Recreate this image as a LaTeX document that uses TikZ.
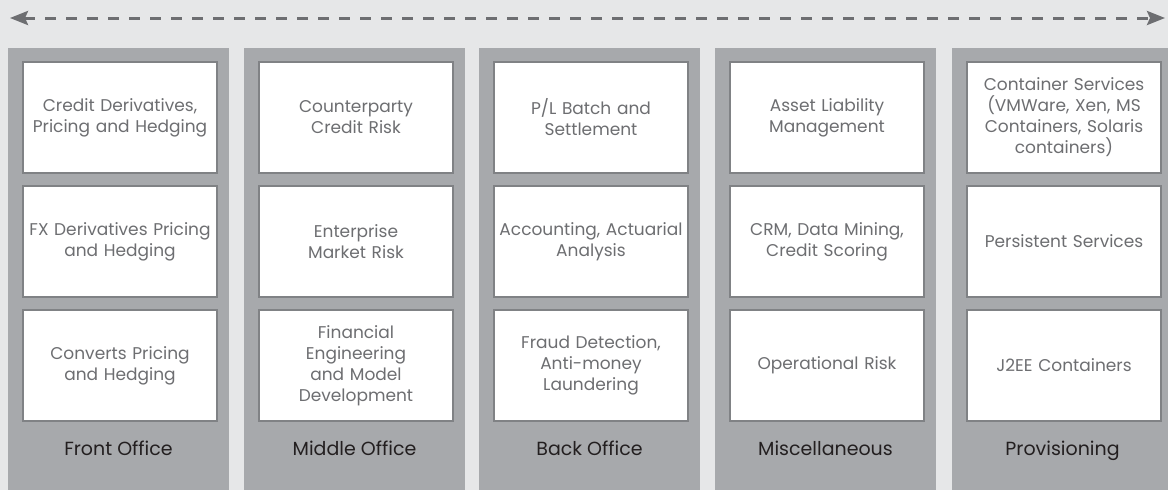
\documentclass[tikz,border=0pt]{standalone}
\usepackage{fontspec}
\setmainfont{Poppins}
\usetikzlibrary{arrows.meta}
\definecolor{bg}{HTML}{E6E7E8}
\definecolor{colgray}{HTML}{A7A9AC}
\definecolor{boxline}{HTML}{808285}
\definecolor{boxtext}{HTML}{6D6E71}
\definecolor{labeltext}{HTML}{231F20}
\definecolor{arrowgray}{HTML}{6D6E71}
\begin{document}
\begin{tikzpicture}[x=1pt,y=-1pt,
  column/.style={fill=colgray, draw=none, minimum width=221pt, minimum height=442pt, inner sep=0pt, outer sep=0pt, anchor=north west},
  cell/.style={draw=boxline, line width=1.2pt, fill=white, minimum width=194pt, minimum height=111pt, text width=192pt, align=center, inner sep=0pt, outer sep=0pt, anchor=north west, text=boxtext, font=\fontsize{17}{21}\selectfont},
  lab/.style={text=labeltext, font=\fontsize{19}{22}\selectfont, inner sep=0pt, anchor=base},
  flow/.style={draw=arrowgray, line width=3pt, dash pattern=on 11pt off 10pt, {Stealth[length=18pt,width=14pt,inset=3pt]}-{Stealth[length=18pt,width=14pt,inset=3pt]}}
]
\fill[bg] (0,0) rectangle (1168,490);
\useasboundingbox (0,0) rectangle (1168,490);

% dashed double arrow
\coordinate (al) at (10,18);
\coordinate (ar) at (1165,18);
\draw[flow] (al) -- (ar);

% columns
\node[column] (c1) at (8,48) {};
\node[column] (c2) at (244,48) {};
\node[column] (c3) at (479,48) {};
\node[column] (c4) at (715,48) {};
\node[column] (c5) at (952,48) {};

% Front Office
\node[cell] (c1a) at (23,62)  {Credit Derivatives,\\Pricing and Hedging};
\node[cell] (c1b) at (23,186) {FX Derivatives Pricing\\and Hedging};
\node[cell] (c1c) at (23,310) {Converts Pricing\\and Hedging};
\node[lab]  (c1l) at (118.5,455) {Front Office};

% Middle Office
\node[cell] (c2a) at (259,62)  {Counterparty\\Credit Risk};
\node[cell] (c2b) at (259,186) {Enterprise\\Market Risk};
\node[cell] (c2c) at (259,310) {Financial\\Engineering\\and Model\\Development};
\node[lab]  (c2l) at (354.5,455) {Middle Office};

% Back Office
\node[cell] (c3a) at (494,62)  {P/L Batch and\\Settlement};
\node[cell] (c3b) at (494,186) {Accounting, Actuarial\\Analysis};
\node[cell] (c3c) at (494,310) {Fraud Detection,\\Anti-money\\Laundering};
\node[lab]  (c3l) at (589.5,455) {Back Office};

% Miscellaneous
\node[cell] (c4a) at (730,62)  {Asset Liability\\Management};
\node[cell] (c4b) at (730,186) {CRM, Data Mining,\\Credit Scoring};
\node[cell] (c4c) at (730,310) {Operational Risk};
\node[lab]  (c4l) at (825.5,455) {Miscellaneous};

% Provisioning
\node[cell] (c5a) at (967,62)  {Container Services\\(VMWare, Xen, MS\\Containers, Solaris\\containers)};
\node[cell] (c5b) at (967,186) {Persistent Services};
\node[cell] (c5c) at (967,310) {J2EE Containers};
\node[lab]  (c5l) at (1062.5,455) {Provisioning};
\end{tikzpicture}
\end{document}
